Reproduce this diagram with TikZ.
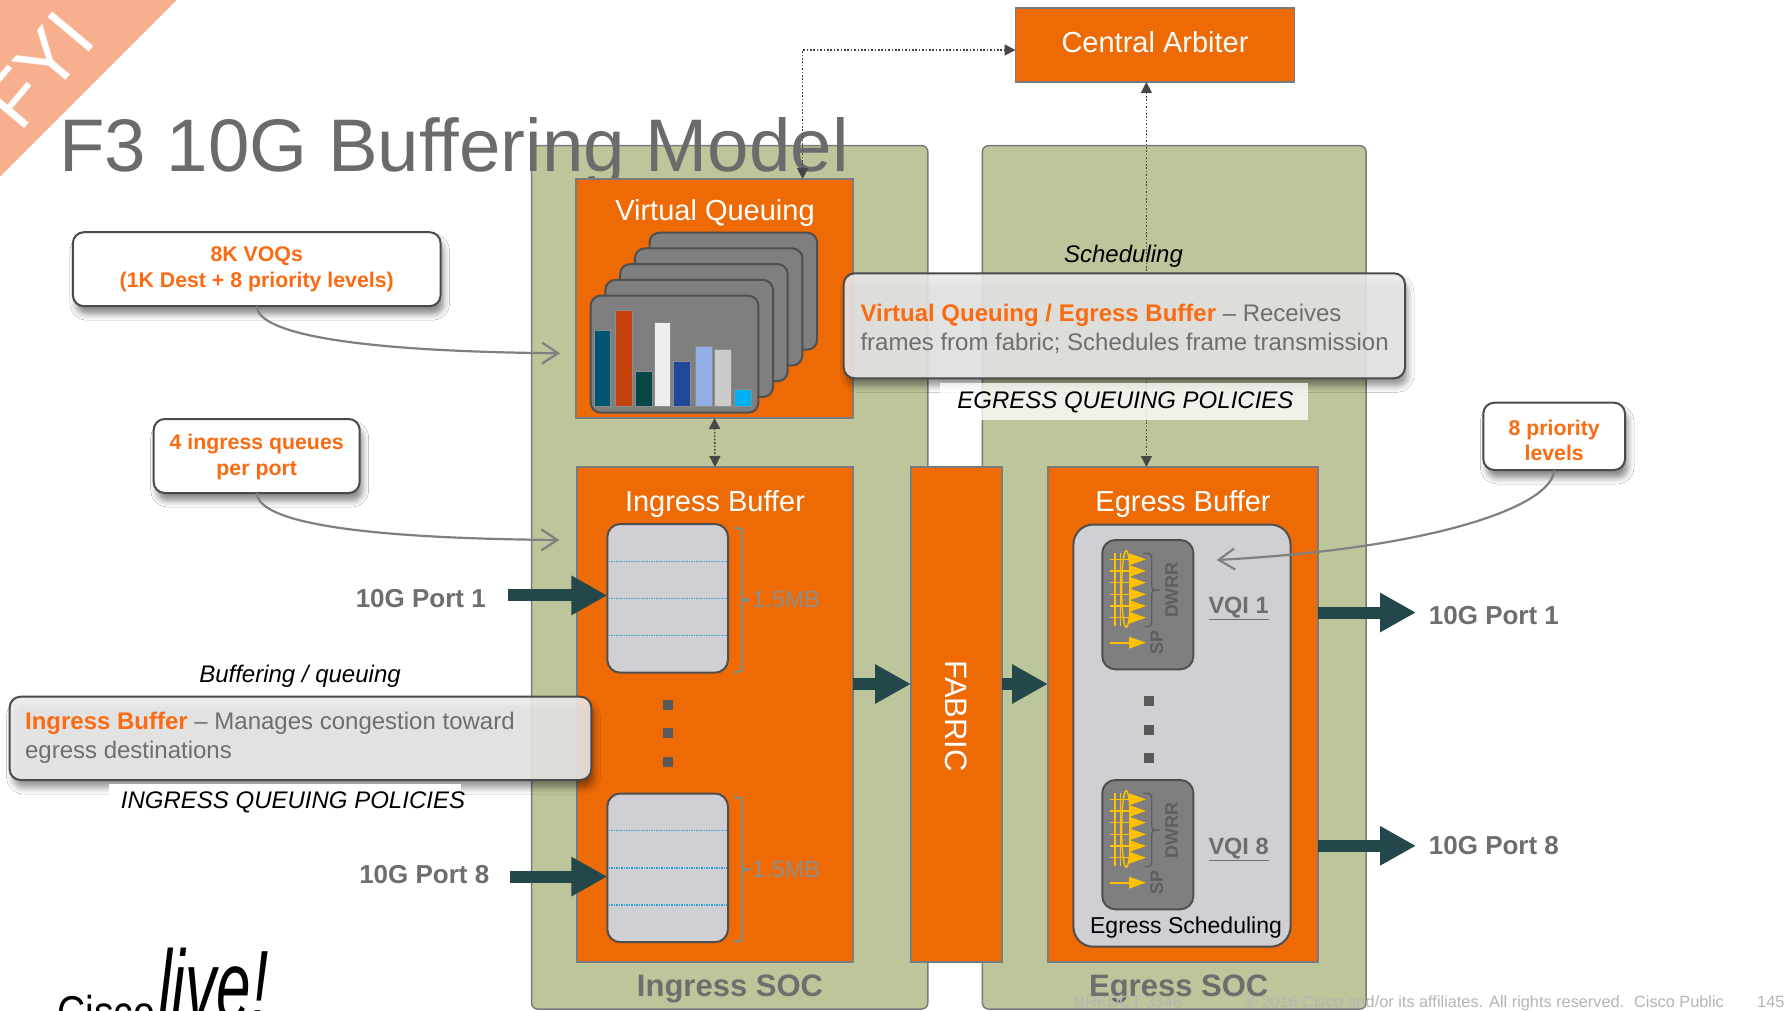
\documentclass[tikz,border=0pt]{standalone}
\usepackage{fontspec}
\setmainfont{Liberation Sans}
\usetikzlibrary{arrows.meta,fit,shadows.blur}

\definecolor{panelgreen}{HTML}{BDC69B}
\definecolor{cisorange}{HTML}{ED6A05}
\definecolor{hiorange}{HTML}{FA6B12}
\definecolor{edgegray}{HTML}{7B7B7B}
\definecolor{titlegray}{HTML}{6B6B6B}
\definecolor{textgray}{HTML}{6E6E6E}
\definecolor{flowteal}{HTML}{23474A}
\definecolor{fyisalmon}{HTML}{F8AF8E}
\definecolor{queuefill}{HTML}{CFCFD4}
\definecolor{cardgray}{HTML}{7F7F7F}
\definecolor{cardedge}{HTML}{4F4F4F}
\definecolor{cyanline}{HTML}{35A2D6}
\definecolor{spyellow}{HTML}{FFC000}
\definecolor{footgray}{HTML}{B4B4B4}
\definecolor{notegray}{HTML}{4A4A4A}
\definecolor{glassfill}{HTML}{ECECEC}
\definecolor{pointergray}{HTML}{808080}
\definecolor{mbgray}{HTML}{8E8E8E}
\definecolor{dwrrgray}{HTML}{5E5E5E}
\definecolor{barA}{HTML}{005670}
\definecolor{barB}{HTML}{C4420C}
\definecolor{barC}{HTML}{064646}
\definecolor{barD}{HTML}{EEEEEE}
\definecolor{barE}{HTML}{21479A}
\definecolor{barF}{HTML}{92AFE5}
\definecolor{barG}{HTML}{CBCBCB}
\definecolor{barH}{HTML}{00B0F0}

\newcommand{\fsz}[2]{\fontsize{#1}{#2}\selectfont}
% right-pointing curly brace: colour, x, top, bottom, amplitude
\newcommand{\sidebrace}[5]{%
  \draw[#1,line width=1.3pt] (#2,#3) .. controls ({#2+#5/2},#3) .. ({#2+#5/2},{#3+#5/2})
    -- ({#2+#5/2},{(#3+#4)/2-#5/2}) .. controls ({#2+#5/2},{(#3+#4)/2}) .. ({#2+#5},{(#3+#4)/2})
    .. controls ({#2+#5/2},{(#3+#4)/2}) .. ({#2+#5/2},{(#3+#4)/2+#5/2})
    -- ({#2+#5/2},{#4-#5/2}) .. controls ({#2+#5/2},#4) .. (#2,#4);}

\begin{document}
\begin{tikzpicture}[x=1pt,y=-1pt,
  panel/.style={draw=edgegray,line width=1.5pt,fill=panelgreen,rounded corners=6pt,inner sep=0pt,outer sep=0pt},
  obox/.style={draw=edgegray,line width=1.8pt,fill=cisorange,inner sep=0pt,outer sep=0pt},
  boxtitle/.style={text=white,font=\fsz{29}{34},anchor=base,inner sep=0pt},
  note/.style={draw=notegray,line width=2pt,fill=white,rounded corners=11pt,inner sep=0pt,outer sep=0pt,
     blur shadow={shadow xshift=3pt,shadow yshift=-8pt,shadow blur radius=6pt,shadow opacity=45}},
  glassnote/.style={note,fill=glassfill,fill opacity=0.88},
  notetext/.style={text=hiorange,font=\bfseries\fsz{21.3}{26},align=center,inner sep=0pt},
  bodytext/.style={text=textgray,font=\fsz{24}{29},align=left,anchor=west,inner sep=0pt},
  captext/.style={font=\itshape\fsz{24}{28},anchor=base,inner sep=0pt},
  porttext/.style={text=textgray,font=\bfseries\fsz{26}{30},inner sep=0pt},
  pointer/.style={draw=pointergray,line width=2.2pt,-{Straight Barb[length=16pt,width=21pt]}},
  flow/.style={draw=flowteal,line width=12pt,-{Triangle[length=36pt,width=37pt]}},
  signal/.style={draw=black!72,line width=1.6pt,dash pattern=on 1.6pt off 1.8pt,
     {Triangle[length=11pt,width=11pt]}-{Triangle[length=11pt,width=11pt]}},
  qbox/.style={draw=cardedge,line width=2pt,fill=queuefill,rounded corners=13pt,inner sep=0pt,outer sep=0pt},
  vqibox/.style={draw=cardedge,line width=2pt,fill=cardgray,rounded corners=13pt,inner sep=0pt,outer sep=0pt},
  card/.style={draw=cardedge,line width=2pt,fill=cardgray,rounded corners=10pt},
  sptext/.style={text=dwrrgray,font=\bfseries\fsz{18}{20},rotate=90,inner sep=0pt},
  vqitext/.style={text=textgray,font=\bfseries\fsz{23.5}{26},anchor=base west,inner sep=0pt},
  mbtext/.style={text=mbgray,font=\fsz{23.5}{26},anchor=west,inner sep=0pt},
  foot/.style={text=footgray,font=\fsz{16.3}{18},anchor=base west,inner sep=0pt}
]
\useasboundingbox (0,0) rectangle (1785,1011);
\fill[white] (0,0) rectangle (1785,1011);

% FYI corner
\begin{scope}
  \clip (0,0) -- (177,0) -- (0,177) -- cycle;
  \fill[fyisalmon] (0,0) -- (177,0) -- (0,177) -- cycle;
  \node[text=white,font=\fsz{78}{84},rotate=50,inner sep=0pt] (fyi) at (39,70) {FYI};
\end{scope}

% SoC panels
\node[panel,fit={(531.6,145.7) (927.8,1009)}] (ingsoc) {};
\node[panel,fit={(982.4,145.7) (1366.1,1009)}] (egrsoc) {};

% title
\node[anchor=base west,text=titlegray,font=\fsz{74.5}{80},inner sep=0pt] (title) at (59,171.7) {F3 10G Buffering Model};

% orange function blocks
\node[obox,fit={(1015.5,8) (1294.4,82)}] (arb) {};
\node[boxtitle] (arbt) at (1155,52.4) {Central Arbiter};
\node[obox,fit={(576,179) (853,418)}] (vq) {};
\node[boxtitle] (vqt) at (715,220) {Virtual Queuing};
\node[obox,fit={(577,467) (853,962)}] (ib) {};
\node[boxtitle] (ibt) at (715,511.4) {Ingress Buffer};
\node[obox,fit={(911,467) (1002,962)}] (fab) {};
\node[text=white,font=\fsz{31}{34},rotate=-90,inner sep=0pt] (fabt) at (956.5,716) {FABRIC};
\node[obox,fit={(1048,467) (1318,962)}] (eb) {};
\node[boxtitle] (ebt) at (1183,511.4) {Egress Buffer};

% stacked VOQ cards with bar chart
\foreach \k in {4,3,2,1,0}
  \draw[card] ({590.7+14.7*\k},{295.7-15.75*\k}) rectangle ++(167.6,117);
\foreach \xa/\xb/\tp/\col in {594/610/330.7/barA, 615.3/632.3/310.7/barB, 635.7/652.7/371.3/barC,
    654/670.7/322.7/barD, 673.7/690/361/barE, 695/712/346.7/barF, 714.3/731.7/349/barG, 734.7/751.7/389.3/barH}
  \filldraw[fill=\col,draw=black!45,line width=0.8pt] (\xa,\tp) rectangle (\xb,406);

% ingress queues
\node[qbox,fit={(607.3,524) (728,672.7)}] (q1) {};
\node[qbox,fit={(607.3,793.5) (728,942.2)}] (q8) {};
\foreach \yy in {561.2,598.4,635.5,830.7,867.9,905}
  \draw[cyanline,line width=1.2pt,dash pattern=on 1.5pt off 1pt] (608.5,\yy) -- (726.8,\yy);
\sidebrace{cyanline}{734}{528}{672}{16}
\sidebrace{cyanline}{734}{797.5}{941.5}{16}
\node[mbtext] (mb1) at (752,600) {1.5MB};
\node[mbtext] (mb8) at (752,869.5) {1.5MB};
\foreach \yy in {704.7,733.1,761.6}
  \fill[black!65] (663.2,{\yy-5}) rectangle (673.2,{\yy+5});

% egress scheduling
\node[qbox,rounded corners=20pt,fit={(1073.4,524.5) (1290.5,946.7)}] (es) {};
\node[vqibox,fit={(1102.3,540) (1193.3,669.3)}] (v1) {};
\node[vqibox,fit={(1102.3,780) (1193.3,909.3)}] (v8) {};
\foreach \T in {540,780} {
  \foreach \i in {0,...,5}
    \draw[spyellow,line width=1.6pt,-{Triangle[length=17pt,width=11.6pt]}] (1110,{\T+19.3+11.67*\i}) -- (1146,{\T+19.3+11.67*\i});
  \foreach \vx in {1115,1120.5}
    \draw[spyellow,line width=1.2pt] (\vx,{\T+13}) -- (\vx,{\T+86});
  \draw[spyellow,line width=1.4pt] (1126.2,{\T+49}) ellipse [x radius=4.5,y radius=38.3];
  \draw[spyellow,line width=1.6pt,-{Triangle[length=17pt,width=11.6pt]}] (1110,{\T+102.7}) -- (1146,{\T+102.7});
  \sidebrace{dwrrgray}{1143.3}{\T+13.3}{\T+86.7}{16.7}
}
\node[sptext] (dw1) at (1171.7,590) {DWRR};
\node[sptext] (sp1) at (1156.7,642.7) {SP};
\node[sptext] (dw8) at (1171.7,830) {DWRR};
\node[sptext] (sp8) at (1156.7,882.7) {SP};
\node[vqitext] (vqi1) at (1208.3,613.3) {\underline{VQI 1}};
\node[vqitext] (vqi8) at (1208.3,854) {\underline{VQI 8}};
\foreach \yy in {701.3,729.7,758.2}
  \fill[black!65] (1143.7,{\yy-5}) rectangle (1153.7,{\yy+5});
\node[font=\fsz{23}{26},anchor=base,inner sep=0pt] (est) at (1186,933) {Egress Scheduling};

% arbitration signalling
\coordinate (bend) at (802.6,50);
\coordinate (sx) at (1146.4,0);
\draw[signal] (vq.north -| bend) -- (bend) -- (arb.west |- bend);
\draw[signal] (arb.south -| sx) -- (eb.north -| sx);
\draw[signal] (vq.south) -- (ib.north);

% frame flow
\node[porttext,anchor=east] (lp1) at (486,599) {10G Port 1};
\node[porttext,anchor=east] (lp8) at (489.5,874.3) {10G Port 8};
\node[porttext,anchor=west] (rp1) at (1428.7,615.9) {10G Port 1};
\node[porttext,anchor=west] (rp8) at (1428.7,845.8) {10G Port 8};
\coordinate (lp1tail) at (508,595.4);
\coordinate (lp8tail) at (510,876.6);
\coordinate (rp1tip) at (1416,612.5);
\coordinate (rp8tip) at (1416,845.8);
\coordinate (fy) at (0,684);
\draw[flow] (lp1tail) -- (lp1tail -| q1.west);
\draw[flow] (lp8tail) -- (lp8tail -| q8.west);
\draw[flow] (fy -| ib.east) -- (fy -| fab.west);
\draw[flow] (fy -| fab.east) -- (fy -| eb.west);
\draw[flow] (rp1tip -| eb.east) -- (rp1tip);
\draw[flow] (rp8tip -| eb.east) -- (rp8tip);

% captions
\node[captext] (schedcap) at (1123.5,262.7) {Scheduling};
\node[captext] (bufcap) at (300,682.3) {Buffering / queuing};

% callouts
\node[note,fit={(72.9,232.2) (440.6,306.2)}] (n8k) {};
\node[notetext] (n8kt) at (256.7,269) {8K VOQs\\(1K Dest + 8 priority levels)};
\node[note,fit={(153.7,419) (359.7,493)}] (n4q) {};
\node[notetext] (n4qt) at (256.7,457) {4 ingress queues\\per port};
\node[note,fit={(1483.3,402.7) (1625,470)}] (n8p) {};
\node[notetext,font=\bfseries\fsz{21.3}{24.7}] (n8pt) at (1554.2,440.5) {8 priority\\levels};

\node[glassnote,fit={(843.7,273.3) (1405,378.3)}] (nvq) {};
\node[bodytext] (nvqt) at (860.3,329.3) {{\bfseries\color{hiorange}Virtual Queuing / Egress Buffer} – Receives\\frames from fabric; Schedules frame transmission};
\node[glassnote,fit={(9.6,696.7) (591.3,780)}] (nib) {};
\node[bodytext] (nibt) at (24.9,737.9) {{\bfseries\color{hiorange}Ingress Buffer} – Manages congestion toward\\egress destinations};

\node[fill=white,fill opacity=0.78,inner sep=0pt,fit={(940,383.3) (1308,420)}] (egpolbox) {};
\node[captext] (egpol) at (1125.4,408.3) {EGRESS QUEUING POLICIES};
\node[fill=white,inner sep=0pt,fit={(109,784) (461,818)}] (inpolbox) {};
\node[captext] (inpol) at (293,808.3) {INGRESS QUEUING POLICIES};

\coordinate (vqin) at (560,353.3);
\coordinate (ibin) at (559.3,540);
\coordinate (vqiin) at (1216.7,560);
\draw[pointer] (n8k.south) .. controls (257.5,328) and (320,351) .. (vqin);
\draw[pointer] (n4q.south) .. controls (258,516) and (320,538) .. (ibin);
\draw[pointer] (n8p.south) .. controls (1553,505) and (1440,548) .. (vqiin);

% SoC labels
\node[text=textgray,font=\bfseries\fsz{31}{34},anchor=base,inner sep=0pt] (ingsocl) at (730,996.7) {Ingress SOC};
\node[text=textgray,font=\bfseries\fsz{31}{34},anchor=base,inner sep=0pt] (egrsocl) at (1178.7,996.7) {Egress SOC};

% footer
\node[foot] (code) at (1074,1007.3) {BRKDCT-3346};
\node[foot] (copy) at (1244.8,1007.3) {© 2016  Cisco and/or its affiliates. All rights reserved.\hspace{10pt}Cisco Public};
\node[foot] (page) at (1757,1007.3) {145};

% logo
\node[anchor=base west,font=\fsz{46}{50},inner sep=0pt] (cisco) at (57,1028) {\scalebox{0.85}[1]{Cisco}};
\node[anchor=base west,font=\itshape\fsz{100}{100},inner sep=0pt] (live) at (158,1020) {\scalebox{0.62}[1]{live!}};
\end{tikzpicture}
\end{document}
